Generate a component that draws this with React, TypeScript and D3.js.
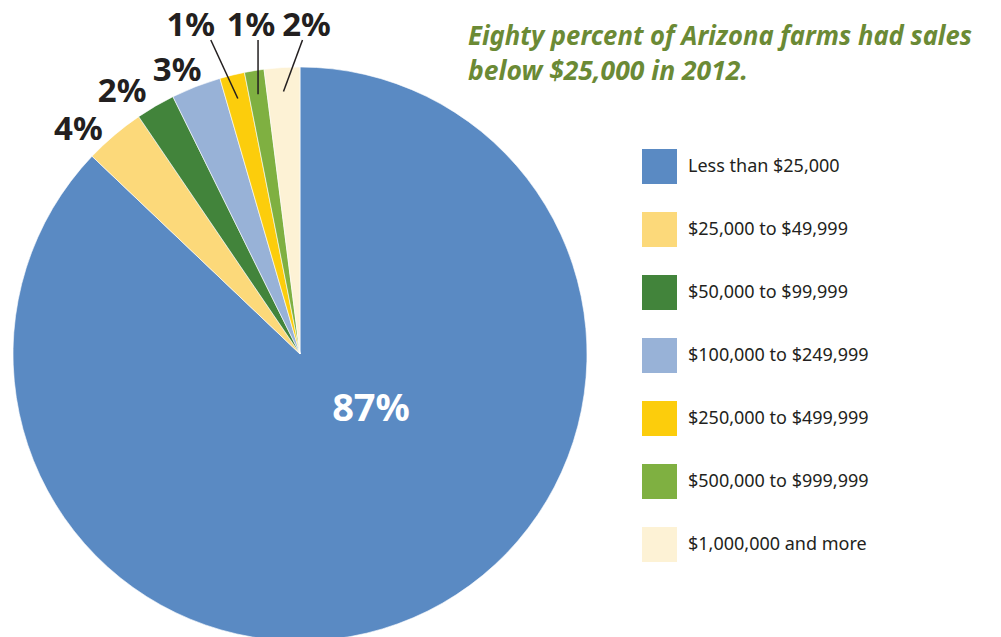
import React from 'react';
import * as d3 from 'd3';

// slice shares, labels as printed
const categories = [
  'Less than $25,000',
  '$25,000 to $49,999',
  '$50,000 to $99,999',
  '$100,000 to $249,999',
  '$250,000 to $499,999',
  '$500,000 to $999,999',
  '$1,000,000 and more',
];
const shares = [87.1, 3.4, 2.2, 2.8, 1.4, 1.1, 2.0];
const labels = ['87%', '4%', '2%', '3%', '1%', '1%', '2%'];
const colors = ['#5a8ac3', '#fcd97a', '#42843b', '#98b2d7', '#fccd0c', '#7fb041', '#fdf2d5'];

const width = 1001;
const height = 637;
const cx = 300;
const cy = 354;
const radius = 287;

const App = () => {
  const pie = d3.pie<number>().sort(null).value((d) => d);
  const arcs = pie(shares);
  const arc = d3.arc<d3.PieArcDatum<number>>().innerRadius(0).outerRadius(radius);

  const pointAt = (a: number, r: number) => [Math.sin(a) * r, -Math.cos(a) * r];
  const mid = (d: d3.PieArcDatum<number>) => (d.startAngle + d.endAngle) / 2;

  // legend rows
  const legendY = d3.scaleBand<string>().domain(categories).range([149, 149 + 63 * 7]).paddingInner(0);

  // top labels with leader lines (last three slices)
  const leaderDx = [-27, 0, 19];

  return (
    <svg width={width} height={height} style={{ position: 'absolute', left: 0, top: 0 }}>
      <g transform={`translate(${cx},${cy})`}>
        {arcs.map((d, i) => (
          <path key={i} d={arc(d) || ''} fill={colors[i]} stroke="#fff" strokeWidth={0.6} />
        ))}
        <text
          x={71}
          y={67}
          textAnchor="middle"
          fill="#fff"
          fontFamily="'Noto Sans', 'Open Sans', sans-serif"
          fontWeight="bold"
          fontSize={38}
        >
          {labels[0]}
        </text>
        {arcs.slice(1, 4).map((d, j) => {
          const [x, y] = pointAt(mid(d), radius + 18);
          return (
            <text
              key={j}
              x={x + (j === 2 ? 12 : 0)}
              y={y + (j === 0 ? 19 : 11)}
              textAnchor="end"
              fill="#231f20"
              fontFamily="'Noto Sans', 'Open Sans', sans-serif"
              fontWeight="bold"
              fontSize={33}
            >
              {labels[j + 1]}
            </text>
          );
        })}
        {arcs.slice(4).map((d, j) => {
          const [x, y] = pointAt(mid(d), radius - 24);
          const tx = x + leaderDx[j];
          const ty = 40 - cy;
          return (
            <g key={j}>
              <line x1={x} y1={y} x2={tx} y2={ty} stroke="#231f20" strokeWidth={1.5} />
              <text
                x={tx - (j === 0 ? 20 : j === 1 ? 7 : -4)}
                y={ty - 4}
                textAnchor="middle"
                fill="#231f20"
                fontFamily="'Noto Sans', 'Open Sans', sans-serif"
                fontWeight="bold"
                fontSize={33}
              >
                {labels[j + 4]}
              </text>
            </g>
          );
        })}
      </g>

      <g fontFamily="'Noto Sans', 'Open Sans', sans-serif" fontWeight="bold" fontStyle="italic" fill="#6b8a35" fontSize={26}>
        <text x={468} y={45} textLength={504} lengthAdjust="spacingAndGlyphs">Eighty percent of Arizona farms had sales</text>
        <text x={468} y={80} textLength={280} lengthAdjust="spacingAndGlyphs">below $25,000 in 2012.</text>
      </g>

      <g fontFamily="'Noto Sans', 'Open Sans', sans-serif" fontSize={18} fill="#231f20">
        {categories.map((c, i) => (
          <g key={c} transform={`translate(642,${legendY(c)})`}>
            <rect width={35} height={35} fill={colors[i]} />
            <text x={46} y={23}>{c}</text>
          </g>
        ))}
      </g>
    </svg>
  );
};

export default App;
